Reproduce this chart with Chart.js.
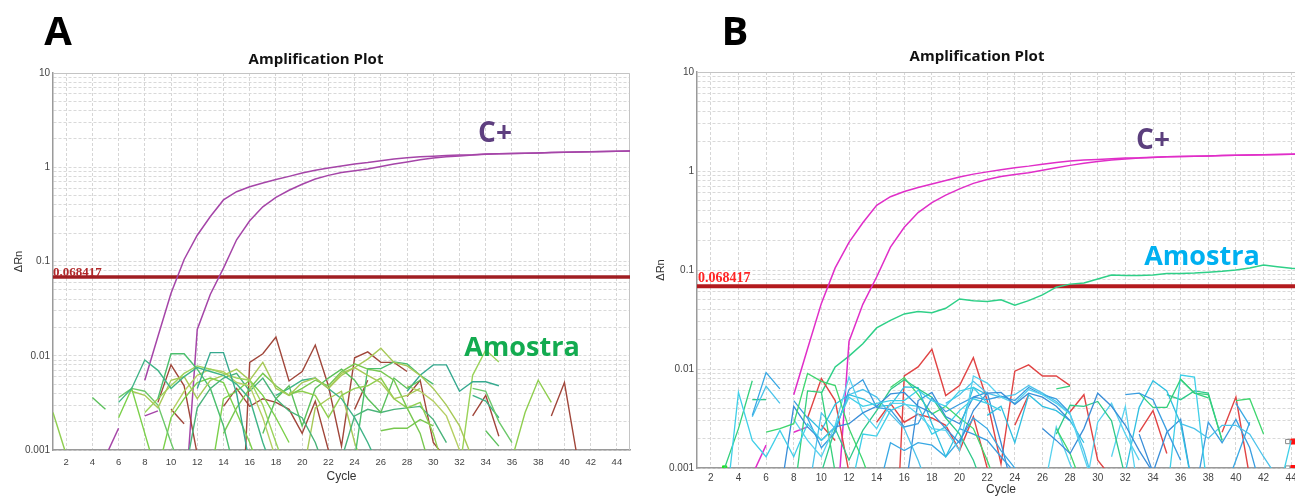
<!DOCTYPE html>
<html><head><meta charset="utf-8">
<script src="https://cdn.jsdelivr.net/npm/chart.js@4.4.1/dist/chart.umd.min.js"></script>
<style>
html,body{margin:0;padding:0;width:1295px;height:502px;overflow:hidden;background:#fff;}
#wrap{position:relative;width:1295px;height:502px;overflow:hidden;}
canvas{position:absolute;top:0;}
#cA{left:0;} #cB{left:650px;}
.lbl{position:absolute;white-space:nowrap;transform:translate(-50%,-50%);font-family:"Open Sans",sans-serif;font-weight:700;line-height:1;}
.thr{position:absolute;white-space:nowrap;transform:translate(0,-50%);font-family:"Liberation Serif",serif;font-weight:700;line-height:1;}
</style></head><body>
<div id="wrap">
<canvas id="cA" width="640" height="502"></canvas>
<canvas id="cB" width="665" height="502"></canvas>
<div class="lbl" style="left:58px;top:30px;font-size:40px;color:#000">A</div>
<div class="lbl" style="left:735px;top:30px;font-size:40px;color:#000">B</div>
<div class="lbl" style="left:316px;top:58px;font-size:15px;color:#111">Amplification Plot</div>
<div class="lbl" style="left:977px;top:55px;font-size:15px;color:#111">Amplification Plot</div>
<div class="lbl" style="left:495px;top:131px;font-size:28px;color:#5e3f7f">C+</div>
<div class="lbl" style="left:1153px;top:138px;font-size:28px;color:#5b3f7d">C+</div>
<div class="lbl" style="left:522px;top:345px;font-size:27px;color:#13ab50">Amostra</div>
<div class="lbl" style="left:1202px;top:254px;font-size:27px;color:#00b0f0">Amostra</div>
<div class="thr" style="left:53px;top:271px;font-size:13px;color:#b0282a">0.068417</div>
<div class="thr" style="left:698px;top:278px;font-size:14px;color:#ff2424">0.068417</div>
</div>
<script>
// ---------- axis values ----------
const xTickValues = [2,4,6,8,10,12,14,16,18,20,22,24,26,28,30,32,34,36,38,40,42,44];
const yDecades = [0.001, 0.01, 0.1, 1, 10];
const cycleRange = [1, 45];
const thresholdLine = [[1, 0.068417], [45, 0.068417]];

// ---------- positive control (C+) ----------
const cPos1Early = [[5,0.00085],[6,0.0017]];
const cPos1 = [[8,0.0055],[9,0.016],[10,0.046],[11,0.105],[12,0.19],[13,0.3],[14,0.45],[15,0.55],[16,0.62],[17,0.68],[18,0.74],[19,0.8],[20,0.87],[21,0.93],[22,0.98],[23,1.03],[24,1.08],[25,1.12],[26,1.17],[27,1.22],[28,1.26],[29,1.29],[30,1.31],[31,1.33],[32,1.35],[33,1.36],[34,1.38],[35,1.39],[36,1.4],[37,1.41],[38,1.42],[39,1.43],[40,1.44],[41,1.45],[42,1.46],[43,1.47],[44,1.48],[45,1.49]];
const cPos2Early = [[8,0.0023],[9,0.0026]];
const cPos2 = [[11,0.0002],[12,0.019],[13,0.045],[14,0.085],[15,0.17],[16,0.27],[17,0.38],[18,0.48],[19,0.57],[20,0.66],[21,0.75],[22,0.82],[23,0.88],[24,0.92],[25,0.96],[26,1.02],[27,1.08],[28,1.14],[29,1.2],[30,1.25],[31,1.29],[32,1.32],[33,1.35],[34,1.37],[35,1.39],[36,1.4],[37,1.41],[38,1.42],[39,1.43],[40,1.44],[41,1.45],[42,1.46],[43,1.47],[44,1.48],[45,1.49]];

// ---------- panel B sample that amplifies ----------
const bAmostra = [[10,0.0057],[11,0.0105],[12,0.0135],[13,0.018],[14,0.026],[15,0.031],[16,0.036],[17,0.038],[18,0.037],[19,0.041],[20,0.051],[21,0.049],[22,0.048],[23,0.05],[24,0.044],[25,0.049],[26,0.056],[27,0.067],[28,0.072],[29,0.074],[30,0.081],[31,0.089],[32,0.088],[33,0.088],[34,0.089],[35,0.092],[36,0.092],[37,0.093],[38,0.095],[39,0.097],[40,0.1],[41,0.105],[42,0.112],[43,0.108],[44,0.104],[45,0.102]];

// ---------- red traces (both panels) ----------
const red01 = [[9,0.0032],[10,0.008],[11,0.0048],[12,0.0009]];
const red02 = [[10,0.0027],[11,0.0019]];
const red03 = [[15,0.00001],[16,0.0085],[17,0.0105],[18,0.0158],[19,0.0054],[20,0.0068],[21,0.013],[22,0.0048],[23,0.0011],[24,0.0095],[25,0.011],[26,0.0085],[27,0.0085],[28,0.0068]];
const red04 = [[14,0.0029],[15,0.0045],[16,0.0029],[17,0.0035],[18,0.0032],[19,0.0027],[20,0.0015],[21,0.0033],[22,0.001],[23,0.0005]];
const red05 = [[24,0.0027],[25,0.0055]];
const red06 = [[28,0.0037],[29,0.0055],[30,0.0012],[31,0.0008]];
const red07 = [[33,0.0023],[34,0.0038],[35,0.0014]];
const red08 = [[39,0.0023],[40,0.0052],[41,0.0008]];

// ---------- panel A sample traces (green) ----------
const aG01 = [[1,0.0025],[2,0.0009]];
const aG02 = [[4,0.0036],[5,0.0027]];
const aG03 = [[6,0.0032],[7,0.0045],[8,0.009],[9,0.007],[10,0.0045],[11,0.006],[12,0.0075],[13,0.0068],[14,0.0062],[15,0.005],[16,0.0035],[17,0.0012],[18,0.0005]];
const aG04 = [[6,0.0022],[7,0.0045],[8,0.0015],[9,0.0005]];
const aG05 = [[7,0.0042],[8,0.0038],[9,0.0028],[10,0.0055],[11,0.006],[12,0.0035],[13,0.0055],[14,0.0062],[15,0.0072],[16,0.0055],[17,0.0085],[18,0.0045],[19,0.0038],[20,0.0052],[21,0.0058],[22,0.0045],[23,0.0065],[24,0.0075],[25,0.0062],[26,0.0052],[27,0.0035],[28,0.0038],[29,0.0045]];
const aG06 = [[9,0.0035],[10,0.0105],[11,0.0105],[12,0.0072],[13,0.0045],[14,0.0018],[15,0.0005]];
const aG07 = [[12,0.0045],[13,0.0108],[14,0.0108],[15,0.004],[16,0.0007]];
const aG08 = [[8,0.0025],[9,0.0035],[10,0.0048],[11,0.0065],[12,0.0078],[13,0.0072],[14,0.0065],[15,0.0058],[16,0.0055],[17,0.003],[18,0.0012],[19,0.0005]];
const aG09 = [[6,0.0036],[7,0.0045],[8,0.0042],[9,0.003],[10,0.0012],[11,0.0005]];
const aG10 = [[10,0.0025],[11,0.0042],[12,0.0062],[13,0.0072],[14,0.0068],[15,0.0052],[16,0.0048],[17,0.0022],[18,0.0008]];
const aG11 = [[11,0.0005],[12,0.0028],[13,0.0045],[14,0.0058],[15,0.0065],[16,0.0042],[17,0.0058],[18,0.0035],[19,0.0026],[20,0.0022],[21,0.0012],[22,0.0005]];
const aG12 = [[14,0.0015],[15,0.0028],[16,0.0045],[17,0.0065],[18,0.0048],[19,0.0038],[20,0.0045],[21,0.0055],[22,0.0048],[23,0.0068],[24,0.0082],[25,0.0072],[26,0.0068],[27,0.0055],[28,0.0028],[29,0.0015],[30,0.0005]];
const aG13 = [[19,0.004],[20,0.0042],[21,0.0038],[22,0.0022],[23,0.0038],[24,0.0045],[25,0.0048],[26,0.0058],[27,0.0035],[28,0.0028],[29,0.0032],[30,0.0015],[31,0.0005]];
const aG14 = [[17,0.0015],[18,0.0035],[19,0.0048],[20,0.0018],[21,0.0045],[22,0.0058],[23,0.0072],[24,0.0055],[25,0.0035],[26,0.0025],[27,0.0058],[28,0.0045],[29,0.0055]];
const aG15 = [[18,0.0038],[19,0.0045],[20,0.0055],[21,0.0058],[22,0.0045],[23,0.0035],[24,0.0022],[25,0.0012],[26,0.0006]];
const aG16 = [[9,0.0006],[10,0.0022],[11,0.0035],[12,0.0052],[13,0.0058],[14,0.0052],[15,0.0025],[16,0.0012],[17,0.0005]];
const aG17 = [[22,0.0045],[23,0.0062],[24,0.0075],[25,0.0092],[26,0.012],[27,0.0085],[28,0.0078],[29,0.0062],[30,0.0045],[31,0.003],[32,0.0018],[33,0.0008]];
const aG18 = [[24,0.0008],[25,0.0073],[26,0.0073],[27,0.0086],[28,0.0082],[29,0.0062],[30,0.005]];
const aG19 = [[28,0.0042],[29,0.0062],[30,0.008],[31,0.008],[32,0.0042],[33,0.0053],[34,0.0053],[35,0.0048]];
const aG20 = [[32,0.0006],[33,0.0062],[34,0.0115],[35,0.0086]];
const aG21 = [[33,0.0045],[34,0.0042],[35,0.002],[36,0.0012]];
const aG22 = [[28,0.0048],[29,0.0042],[30,0.0033],[31,0.0023],[32,0.001]];
const aG23 = [[23,0.0008],[24,0.0023],[25,0.0027],[26,0.0025],[27,0.0027],[28,0.0028],[29,0.0029],[30,0.0021],[31,0.0012]];
const aG24 = [[26,0.0016],[27,0.0017],[28,0.0017],[29,0.0021],[30,0.0018]];
const aG25 = [[36,0.0008],[37,0.0025],[38,0.0055],[39,0.0032]];
const aG26 = [[34,0.0016],[35,0.0011]];
const aG27 = [[33,0.0038],[34,0.0033],[35,0.0022]];
const aG28 = [[13,0.0005],[14,0.0035],[15,0.0042],[16,0.0055],[17,0.0038],[18,0.0022],[19,0.0012]];
const aG29 = [[20,0.0005],[21,0.0028],[22,0.0035],[23,0.0042],[24,0.0012],[25,0.0005]];

// ---------- panel B sample traces ----------
const bN01 = [[3,0.0003],[4,0.0058],[5,0.0019],[6,0.0013],[7,0.0024],[8,0.0013],[9,0.0028],[10,0.0019],[11,0.0026],[12,0.0052],[13,0.0042],[14,0.0045],[15,0.0048],[16,0.0048],[17,0.0061],[18,0.0048],[19,0.0042],[20,0.006],[21,0.0065],[22,0.0045],[23,0.0038]];
const bN02 = [[5,0.0034],[6,0.0092],[7,0.0063]];
const bN03 = [[5,0.0033],[6,0.0067],[7,0.0045]];
const bN04 = [[3,0.001],[4,0.0025],[5,0.0076]];
const bN05 = [[5,0.0049],[6,0.0049]];
const bN06 = [[6,0.0023],[7,0.0025],[8,0.0028],[9,0.009],[10,0.0075],[11,0.0068],[12,0.0025],[13,0.0012],[14,0.0005]];
const bN07 = [[7,0.0005],[8,0.0042],[9,0.0026],[10,0.0019],[11,0.0026],[12,0.0028],[13,0.0036],[14,0.0042],[15,0.0056],[16,0.0058],[17,0.0042],[18,0.0036],[19,0.0025],[20,0.0018],[21,0.0038],[22,0.0057],[23,0.0058],[24,0.0044],[25,0.0057],[26,0.0052],[27,0.0042],[28,0.003]];
const bN08 = [[8,0.0031],[9,0.0019],[10,0.0013],[11,0.0027],[12,0.0083],[13,0.0036],[14,0.0025],[15,0.0045],[16,0.0045],[17,0.0035],[18,0.0025],[19,0.0024],[20,0.0015],[21,0.0085],[22,0.0072],[23,0.0052],[24,0.0045],[25,0.0062],[26,0.0055],[27,0.0045],[28,0.0035],[29,0.0013],[30,0.0005]];
const bN09 = [[8,0.0005],[9,0.006],[10,0.0058],[11,0.0009]];
const bN10 = [[8,0.0048],[9,0.0032],[10,0.0016],[11,0.0023],[12,0.0062],[13,0.0078],[14,0.0041],[15,0.0039],[16,0.0026],[17,0.0028],[18,0.0051],[19,0.0037],[20,0.0044],[21,0.0052],[22,0.0049],[23,0.0053],[24,0.0048],[25,0.0065],[26,0.0055],[27,0.005],[28,0.0036]];
const bN11 = [[10,0.0009],[11,0.0025],[12,0.0012],[13,0.0024],[14,0.0038],[15,0.0062],[16,0.0078],[17,0.0063],[18,0.0052],[19,0.0032],[20,0.0022],[21,0.0012],[22,0.0005]];
const bN12 = [[9,0.0033],[10,0.0024],[11,0.0044],[12,0.0055],[13,0.005],[14,0.0042],[15,0.0043],[16,0.0066],[17,0.0065],[18,0.0028],[19,0.0013],[20,0.0025],[21,0.0065],[22,0.0055]];
const bN13 = [[15,0.0065],[16,0.0082],[17,0.0055],[18,0.0035],[19,0.0042],[20,0.0032],[21,0.0025],[22,0.0012],[23,0.0005]];
const bN14 = [[12,0.0005],[13,0.0022],[14,0.0021],[15,0.0038],[16,0.0044],[17,0.0042],[18,0.0022],[19,0.0026],[20,0.0038],[21,0.005],[22,0.0045]];
const bN15 = [[14,0.0005],[15,0.0018],[16,0.0015],[17,0.0018],[18,0.0017],[19,0.0013],[20,0.0019],[21,0.0032],[22,0.0025],[23,0.0015],[24,0.001],[25,0.0005]];
const bN16 = [[19,0.0045],[20,0.0055],[21,0.0075],[22,0.0057],[23,0.0052],[24,0.0055],[25,0.0068],[26,0.0057],[27,0.0047],[28,0.0035],[29,0.0015],[30,0.0005]];
const bN17 = [[26,0.0025],[27,0.0019],[28,0.0014],[29,0.0025],[30,0.0057],[31,0.0042],[32,0.0027],[33,0.0015],[34,0.0009]];
const bN18 = [[27,0.0063],[28,0.0067]];
const bN19 = [[27,0.0022],[28,0.0043],[29,0.0042],[30,0.0047],[31,0.003],[32,0.0008]];
const bN20 = [[27,0.0025],[28,0.0014],[29,0.0006]];
const bN21 = [[31,0.0013],[32,0.0042],[33,0.0005]];
const bN22 = [[32,0.0055],[33,0.0057],[34,0.0049],[35,0.0024],[36,0.0012]];
const bN23 = [[33,0.0057],[34,0.0041],[35,0.0041],[36,0.0079],[37,0.0057],[38,0.0055],[39,0.0019]];
const bN24 = [[32,0.0009],[33,0.0041],[34,0.0076],[35,0.006],[36,0.0028],[37,0.0005]];
const bN25 = [[35,0.0005],[36,0.0087],[37,0.0083],[38,0.0005]];
const bN26 = [[35,0.0055],[36,0.0049],[37,0.006],[38,0.0057],[39,0.0019]];
const bN27 = [[40,0.0048],[41,0.005],[42,0.0022]];
const bN28 = [[40,0.0045],[41,0.0027]];
const bN29 = [[36,0.0028],[37,0.0025],[38,0.002],[39,0.0027],[40,0.0027],[41,0.0022],[42,0.0013],[43,0.0008]];
const bN30 = [[33,0.0022],[34,0.0009],[35,0.0023],[36,0.0031],[37,0.0005]];
const bN31 = [[26,0.0005],[27,0.0026],[28,0.0011],[29,0.0005]];
const bN32 = [[20,0.0025],[21,0.0022],[22,0.0019],[23,0.0013],[24,0.0009]];
const bN33 = [[22,0.0034],[23,0.0042],[24,0.0018],[25,0.0055],[26,0.0042],[27,0.0038],[28,0.003],[29,0.0018]];
const bN34 = [[43,0.0005],[44,0.0019]];
const bN35 = [[36,0.0078],[37,0.0057],[38,0.0051]];
const bN36 = [[39,0.0005],[40,0.0012],[41,0.0029]];
const bN37 = [[9,0.0005],[10,0.0036],[11,0.0025],[12,0.0055],[13,0.0062],[14,0.0052],[15,0.0035],[16,0.0025],[17,0.0012],[18,0.0005]];
const bN38 = [[16,0.0005],[17,0.0048],[18,0.0058],[19,0.0033],[20,0.0028],[21,0.0052],[22,0.0058],[23,0.0018],[24,0.0005]];
const bN39 = [[29,0.0005],[30,0.0029],[31,0.0045],[32,0.0022],[33,0.0012]];
const bN40 = [[37,0.0005],[38,0.0029],[39,0.0018],[40,0.0031],[41,0.0016],[42,0.0005]];
const bMarkGreen = [[3,0.001]];
const bMarkRed = [[44.15,0.00185],[44.15,0.001]];
const bMarkGray = [[43.75,0.00185],[43.75,0.001]];

// ---------- colours ----------
const greenPalette = ['#8fce4f','#5cc05c','#3fb487','#7bd04a','#a7c957','#4cbf6e','#36a98f','#9bd35a','#6cc86a','#b5cf63','#49b37a','#78c850'];
const blueOnly = ['#3fcfe8','#38a8e4','#4cc3ea','#3a8ed8','#58d2ef','#3b9ee0','#30bfe0'];
const greenOnly = ['#34d07c','#2fc98a','#3ed66e'];
const bGreenNames = ['bN04','bN05','bN06','bN09','bN11','bN13','bN18','bN19','bN20','bN23','bN26','bN27','bN35'];

function pts(arr){ return arr.map(p => ({x:p[0], y:p[1]})); }
function line(arr, color, w){ return {data:pts(arr), borderColor:color, borderWidth:w||1.3, pointRadius:0, tension:0, fill:false}; }

const framePlugin = {
  id:'frame',
  beforeDatasetsDraw(chart){
    const a = chart.chartArea, c = chart.ctx;
    c.save(); c.strokeStyle = '#c4c4c4'; c.lineWidth = 1;
    c.beginPath(); c.moveTo(a.left, a.top+0.5); c.lineTo(a.right-0.5, a.top+0.5); c.lineTo(a.right-0.5, a.bottom); c.stroke();
    c.restore();
  }
};

function yMinorTicks(){
  const out = [];
  for (let k=-3;k<=0;k++) for (let m=1;m<=9;m++) out.push({value: +(m*Math.pow(10,k)).toPrecision(6)});
  out.push({value:10});
  return out;
}

function makeOptions(cfg){
  return {
    responsive:false, animation:false, devicePixelRatio:1,
    layout:{padding:cfg.pad},
    plugins:{legend:{display:false}, tooltip:{enabled:false}, title:{display:false}},
    elements:{point:{radius:0}, line:{tension:0}},
    scales:{
      x:{type:'linear', min:cycleRange[0], max:cycleRange[1],
        afterBuildTicks(s){ s.ticks = xTickValues.map(v=>({value:v})); },
        afterFit(s){ s.height = cfg.xh; },
        ticks:{autoSkip:false, maxRotation:0, padding:cfg.xpad, color:'#444', font:{family:'Liberation Sans', size:cfg.tf}, callback:v=>String(v)},
        grid:{color:'#d6d6d6', lineWidth:1, drawTicks:false},
        border:{display:true, color:'#9a9a9a', width:1.5, dash:[3,2]},
        title:{display:true, text:'Cycle', color:'#333', font:{family:'Liberation Sans', size:12}, padding:{top:0,bottom:cfg.xtp}}
      },
      y:{type:'logarithmic', min:yDecades[0], max:yDecades[yDecades.length-1],
        afterBuildTicks(s){ s.ticks = yMinorTicks(); },
        afterFit(s){ s.width = cfg.yw; },
        ticks:{autoSkip:false, padding:3, color:'#444', font:{family:'Liberation Sans', size:10},
          callback:(v)=>{ return yDecades.some(d=>Math.abs(d-v)/d<1e-6) ? String(v) : ''; }},
        grid:{color:'#d9d9d9', lineWidth:1, drawTicks:false},
        border:{display:true, color:'#9a9a9a', width:1.5, dash:[3,2]},
        title:{display:true, text:'ΔRn', color:'#333', font:{family:'Liberation Sans', size:11}, padding:{top:0,bottom:0}}
      }
    }
  };
}

// ---------- Panel A ----------
const aGreens = [aG01,aG02,aG03,aG04,aG05,aG06,aG07,aG08,aG09,aG10,aG11,aG12,aG13,aG14,aG15,aG16,aG17,aG18,aG19,aG20,aG21,aG22,aG23,aG24,aG25,aG26,aG27,aG28,aG29];
const reds = [red01,red02,red03,red04,red05,red06,red07,red08];
const dsA = [];
aGreens.forEach((g,i)=>dsA.push(line(g, greenPalette[i%greenPalette.length], 1.4)));
reds.forEach(r=>dsA.push(line(r, '#a0463a', 1.4)));
[cPos1Early,cPos1,cPos2Early,cPos2].forEach(c=>dsA.push(line(c, '#a545a8', 1.5)));
dsA.push(line(thresholdLine, '#a01e22', 3.5));

const optA = makeOptions({pad:{left:12, top:73, right:10, bottom:0}, xh:52, yw:41, xpad:7, tf:9.5, xtp:18});
new Chart(document.getElementById('cA'), {type:'line', data:{datasets:dsA}, options:optA, plugins:[framePlugin]});

// ---------- Panel B ----------
const bNames = ['bN01','bN02','bN03','bN04','bN05','bN06','bN07','bN08','bN09','bN10','bN11','bN12','bN13','bN14','bN15','bN16','bN17','bN18','bN19','bN20','bN21','bN22','bN23','bN24','bN25','bN26','bN27','bN28','bN29','bN30','bN31','bN32','bN33','bN34','bN35','bN36','bN37','bN38','bN39','bN40'];
const bSeries = [bN01,bN02,bN03,bN04,bN05,bN06,bN07,bN08,bN09,bN10,bN11,bN12,bN13,bN14,bN15,bN16,bN17,bN18,bN19,bN20,bN21,bN22,bN23,bN24,bN25,bN26,bN27,bN28,bN29,bN30,bN31,bN32,bN33,bN34,bN35,bN36,bN37,bN38,bN39,bN40];
const dsB = [];
let bi=0, gi=0;
bSeries.forEach((s,i)=>{
  const col = bGreenNames.includes(bNames[i]) ? greenOnly[(gi++)%greenOnly.length] : blueOnly[(bi++)%blueOnly.length];
  dsB.push(line(s, col, 1.3));
});
reds.forEach(r=>dsB.push(line(r, '#e04444', 1.4)));
[cPos1Early,cPos1,cPos2Early,cPos2].forEach(c=>dsB.push(line(c, '#e02ec8', 1.5)));
dsB.push(line(bAmostra, '#2fd088', 1.5));
dsB.push(line(thresholdLine, '#b31a1e', 4));
dsB.push({data:pts(bMarkGreen), showLine:false, pointStyle:'rect', pointRadius:3, backgroundColor:'#22e022', borderColor:'#22e022'});
dsB.push({data:pts(bMarkGray), showLine:false, pointStyle:'rect', pointRadius:3, backgroundColor:'#ffffff', borderColor:'#888', borderWidth:1});
dsB.push({data:pts(bMarkRed), showLine:false, pointStyle:'rect', pointRadius:3.5, backgroundColor:'#ff1010', borderColor:'#ff1010'});

const optB = makeOptions({pad:{left:4, top:72, right:10, bottom:0}, xh:34, yw:43, xpad:4, tf:10, xtp:5});
new Chart(document.getElementById('cB'), {type:'line', data:{datasets:dsB}, options:optB, plugins:[framePlugin]});
</script>
</body></html>
